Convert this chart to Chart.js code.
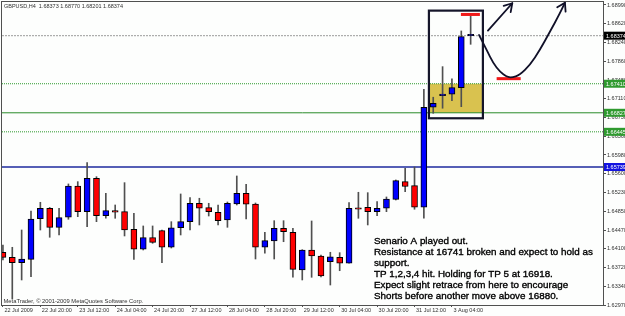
<!DOCTYPE html>
<html>
<head>
<meta charset="utf-8">
<title>GBPUSD H4</title>
<script src="https://cdn.jsdelivr.net/npm/chart.js@4.4.1/dist/chart.umd.min.js"></script>
<style>
  html, body { margin: 0; padding: 0; background: #fff; }
  #wrap { width: 625px; height: 316px; }
</style>
</head>
<body>
<div id="wrap"><canvas id="chart" width="625" height="316"></canvas></div>
<script>
// GBPUSD H4 candles (index 0 = 22 Jul 2009)
const opens = [1.64028, 1.63927, 1.63819, 1.63887, 1.64702, 1.64911, 1.64529, 1.64730, 1.65358, 1.64843,
  1.65513, 1.64762, 1.64863, 1.64843, 1.64489, 1.64088, 1.64321, 1.64461, 1.64128, 1.64521,
  1.64642, 1.65011, 1.64923, 1.64831, 1.64676, 1.64997, 1.65212, 1.64997, 1.64128, 1.64254,
  1.64509, 1.64429, 1.63673, 1.64074, 1.63953, 1.63839, 1.63927, 1.63807, 1.64911, 1.64931,
  1.64843, 1.64911, 1.65091, 1.65445, 1.65364, 1.64931, 1.66938, 1.67171, 1.67199, 1.67331, 1.68373];
const highs = [1.64174, 1.64128, 1.64475, 1.64857, 1.65031, 1.64927, 1.64911, 1.65399, 1.65445, 1.65826,
  1.65545, 1.65212, 1.64977, 1.65425, 1.64810, 1.64556, 1.64556, 1.64475, 1.64642, 1.65198,
  1.65124, 1.65112, 1.65011, 1.64977, 1.65037, 1.65559, 1.65392, 1.65017, 1.64429, 1.64662,
  1.64662, 1.64509, 1.64080, 1.64656, 1.63974, 1.64028, 1.64020, 1.65023, 1.65232, 1.65224,
  1.65043, 1.65138, 1.65479, 1.65714, 1.65740, 1.67299, 1.67139, 1.67753, 1.67506, 1.68469, 1.68770];
const lows = [1.63873, 1.63090, 1.63472, 1.63538, 1.64475, 1.64329, 1.64375, 1.64690, 1.64742, 1.64542,
  1.64642, 1.64710, 1.64710, 1.64355, 1.63887, 1.64074, 1.64208, 1.63819, 1.64114, 1.64375,
  1.64475, 1.64576, 1.64756, 1.64576, 1.64529, 1.64977, 1.64696, 1.63893, 1.64008, 1.63893,
  1.64240, 1.63526, 1.63472, 1.63526, 1.63532, 1.63371, 1.63658, 1.63807, 1.64710, 1.64576,
  1.64762, 1.64843, 1.65077, 1.65244, 1.64891, 1.64710, 1.66817, 1.66918, 1.67070, 1.66950, 1.68201];
const closes = [1.63927, 1.63819, 1.63893, 1.64696, 1.64911, 1.64529, 1.64722, 1.65358, 1.64843, 1.65513,
  1.64762, 1.64863, 1.64831, 1.64475, 1.64088, 1.64321, 1.64228, 1.64128, 1.64521, 1.64642,
  1.65011, 1.64911, 1.64843, 1.64662, 1.65011, 1.65212, 1.64991, 1.64128, 1.64261, 1.64509,
  1.64441, 1.63686, 1.64074, 1.63953, 1.63552, 1.63939, 1.63807, 1.64911, 1.64891, 1.64843,
  1.64911, 1.65097, 1.65465, 1.65348, 1.64931, 1.66938, 1.67018, 1.67199, 1.67331, 1.68355, 1.68374];

// time axis: a label every 4 bars
const timeLabels = ['22 Jul 2009', '22 Jul 20:00', '23 Jul 12:00', '24 Jul 04:00', '24 Jul 20:00',
  '27 Jul 12:00', '28 Jul 04:00', '28 Jul 20:00', '29 Jul 12:00', '30 Jul 04:00', '30 Jul 20:00',
  '31 Jul 12:00', '3 Aug 04:00'];
const timeTickIdx = [0, 4, 8, 12, 16, 20, 24, 28, 32, 36, 40, 44, 48];

// price axis labels
const priceTicks = [1.62970, 1.63340, 1.63720, 1.64100, 1.64470, 1.64850, 1.65230, 1.65600, 1.65980,
  1.66360, 1.66730, 1.67110, 1.67480, 1.67860, 1.68240, 1.68620, 1.68990];

// horizontal levels drawn on the chart
const bidLevel = 1.68374;
const greenLevels = [1.67410, 1.66827, 1.66445];
const blueLevel = 1.65739;

// hand-drawn annotations (bar index / price)
const boxX = [45.54, 51.31];
const boxY = [1.66717, 1.68877];
const redMarks = [[48.96, 50.99, 1.68800], [52.78, 55.35, 1.67512]];
const arrowLine = [[51.85, 1.68475], [54.45, 1.69025]];
const curveX = [50.89, 51.71, 52.42, 53.13, 53.85, 54.38, 55.27, 56.34, 57.41, 58.48, 59.55, 60.08];
const curveY = [1.68389, 1.68088, 1.67821, 1.67652, 1.67552, 1.67532, 1.67586, 1.67787, 1.68088, 1.68455, 1.68824, 1.69037];

const noteLines = [
  'Senario A played out.',
  'Resistance at 16741 broken and expect to hold as',
  'support.',
  'TP 1,2,3,4 hit. Holding for TP 5 at 16918.',
  'Expect slight retrace from here to encourage',
  'Shorts before another move above 16880.'
];

const X_MIN = -0.1, X_MAX = 64.15;
const axisFont = { family: 'Liberation Sans, Arial, sans-serif', size: 5.5 };

const idx = opens.map((_, i) => i);
const wickData = idx.map(i => ({ x: i, y: [lows[i], highs[i]] }));
const bodyData = idx.map(i => ({ x: i, y: [opens[i], closes[i]] }));
const bodyColors = idx.map(i => closes[i] >= opens[i] ? '#0000ff' : '#ff0000');

function levelLine(v, color, dash, width) {
  return {
    type: 'line',
    data: [{ x: X_MIN, y: v }, { x: X_MAX, y: v }],
    borderColor: color,
    borderWidth: width || 1,
    borderDash: dash || [],
    pointRadius: 0,
    fill: false
  };
}

function arrowHead(ctx, fromX, fromY, tipX, tipY) {
  const ang = Math.atan2(tipY - fromY, tipX - fromX);
  const len = 9;
  ctx.beginPath();
  ctx.moveTo(tipX - len * Math.cos(ang - 0.55), tipY - len * Math.sin(ang - 0.55));
  ctx.lineTo(tipX, tipY);
  ctx.lineTo(tipX - len * Math.cos(ang + 0.55), tipY - len * Math.sin(ang + 0.55));
  ctx.stroke();
}

const drawingPlugin = {
  id: 'drawing',
  beforeDraw(chart) {
    const ctx = chart.ctx;
    ctx.save();
    ctx.fillStyle = '#fdfefd';
    ctx.fillRect(0, 0, chart.width, chart.height);
    ctx.restore();
  },
  beforeDatasetsDraw(chart) {
    const { ctx, scales: { x, y } } = chart;
    // yellow zone between the two upper green levels
    const x1 = x.getPixelForValue(boxX[0] + 0.1), x2 = x.getPixelForValue(boxX[1] - 0.1);
    const y1 = y.getPixelForValue(greenLevels[0]), y2 = y.getPixelForValue(greenLevels[1]);
    ctx.save();
    ctx.fillStyle = '#d9c24f';
    ctx.fillRect(x1, y1, x2 - x1, y2 - y1);
    ctx.restore();
  },
  afterDatasetsDraw(chart) {
    const { ctx, scales: { x, y } } = chart;
    ctx.save();
    // rectangle
    ctx.strokeStyle = '#15152a';
    ctx.lineWidth = 2.2;
    const bx1 = x.getPixelForValue(boxX[0]), bx2 = x.getPixelForValue(boxX[1]);
    const by1 = y.getPixelForValue(boxY[1]), by2 = y.getPixelForValue(boxY[0]);
    ctx.strokeRect(bx1, by1, bx2 - bx1, by2 - by1);

    // red target marks
    ctx.fillStyle = '#f01818';
    redMarks.forEach(m => {
      const a = x.getPixelForValue(m[0]), b = x.getPixelForValue(m[1]);
      const py = y.getPixelForValue(m[2]);
      ctx.fillRect(a, py - 1.5, b - a, 3);
    });

    // arrows
    ctx.strokeStyle = '#101028';
    ctx.lineWidth = 1.8;
    ctx.lineCap = 'round';
    ctx.lineJoin = 'round';
    const ax0 = x.getPixelForValue(arrowLine[0][0]), ay0 = y.getPixelForValue(arrowLine[0][1]);
    const ax1 = x.getPixelForValue(arrowLine[1][0]), ay1 = y.getPixelForValue(arrowLine[1][1]);
    ctx.beginPath();
    ctx.moveTo(ax0, ay0);
    ctx.lineTo(ax1, ay1);
    ctx.stroke();
    arrowHead(ctx, ax0, ay0, ax1, ay1);

    const pts = curveX.map((v, i) => [x.getPixelForValue(v), y.getPixelForValue(curveY[i])]);
    ctx.beginPath();
    ctx.moveTo(pts[0][0], pts[0][1]);
    for (let i = 1; i < pts.length - 1; i++) {
      const mx = (pts[i][0] + pts[i + 1][0]) / 2, my = (pts[i][1] + pts[i + 1][1]) / 2;
      ctx.quadraticCurveTo(pts[i][0], pts[i][1], mx, my);
    }
    const last = pts[pts.length - 1];
    ctx.lineTo(last[0], last[1]);
    ctx.stroke();
    const prev = pts[pts.length - 3];
    arrowHead(ctx, prev[0], prev[1], last[0], last[1]);
    ctx.restore();
  },
  afterDraw(chart) {
    const { ctx, chartArea: ca, scales: { x, y } } = chart;
    ctx.save();
    // frame
    ctx.strokeStyle = '#505050';
    ctx.lineWidth = 1;
    ctx.strokeRect(ca.left - 0.5, ca.top - 0.5, ca.right - ca.left + 1, ca.bottom - ca.top + 1);

    // level price tags on the right axis
    const tags = [[bidLevel, '#000000']].concat(greenLevels.map(v => [v, '#2f9a2f']), [[blueLevel, '#1414e0']]);
    ctx.font = '5.5px Liberation Sans, Arial, sans-serif';
    ctx.textBaseline = 'middle';
    ctx.textAlign = 'left';
    tags.forEach(t => {
      const py = y.getPixelForValue(t[0]);
      ctx.fillStyle = t[1];
      ctx.fillRect(ca.right + 1, py - 4, 21, 8);
      ctx.fillStyle = '#ffffff';
      ctx.fillText(t[0].toFixed(5), ca.right + 3, py + 0.5);
    });

    // header and copyright
    ctx.fillStyle = '#303030';
    ctx.fillText('GBPUSD,H4  1.68373 1.68770 1.68201 1.68374', 4, 6);
    ctx.font = '5.8px Liberation Sans, Arial, sans-serif';
    ctx.fillText('MetaTrader, \u00a9 2001-2009 MetaQuotes Software Corp.', 3.5, 301);

    // comment text (slight stroke to match the heavier screenshot text)
    ctx.fillStyle = '#000000';
    ctx.strokeStyle = '#000000';
    ctx.lineWidth = 0.35;
    ctx.font = '9.85px Liberation Sans, Arial, sans-serif';
    const tx = x.getPixelForValue(39.66);
    const ty = y.getPixelForValue(1.64254);
    noteLines.forEach((s, i) => {
      ctx.fillText(s, tx, ty + i * 11.1);
      ctx.strokeText(s, tx, ty + i * 11.1);
    });
    ctx.restore();
  }
};

new Chart(document.getElementById('chart'), {
  type: 'bar',
  data: {
    datasets: [
      {
        data: bodyData,
        backgroundColor: bodyColors,
        borderColor: '#000000',
        borderWidth: 1,
        borderSkipped: false,
        barThickness: 6,
        minBarLength: 1.5,
        grouped: false
      },
      {
        data: wickData,
        backgroundColor: '#505050',
        borderWidth: 0,
        barThickness: 1,
        grouped: false
      },
      levelLine(bidLevel, '#9a9a9a', [2, 1]),
      levelLine(greenLevels[0], '#2f9a2f', [1, 1]),
      levelLine(greenLevels[1], '#2a8c2a'),
      levelLine(greenLevels[2], '#2f9a2f', [1, 1]),
      levelLine(blueLevel, '#1c2a9e', [], 1.5)
    ]
  },
  options: {
    responsive: false,
    animation: false,
    events: [],
    layout: { padding: { left: 2, top: 2, right: 0, bottom: 0 } },
    plugins: { legend: { display: false }, tooltip: { enabled: false } },
    scales: {
      x: {
        type: 'linear',
        min: X_MIN,
        max: X_MAX,
        offset: false,
        border: { display: false },
        grid: { offset: false, drawOnChartArea: false, drawTicks: true, tickLength: 2, color: '#505050' },
        afterBuildTicks: s => { s.ticks = timeTickIdx.map(v => ({ value: v })); },
        afterFit: s => { s.height = 11; s.paddingLeft = 0; s.paddingRight = 0; },
        ticks: {
          autoSkip: false,
          maxRotation: 0,
          align: 'start',
          labelOffset: 1.5,
          padding: 0,
          color: '#303030',
          font: axisFont,
          callback: (v, i) => timeLabels[i]
        }
      },
      y: {
        position: 'right',
        min: 1.62970,
        max: 1.69050,
        border: { display: false },
        grid: { drawOnChartArea: false, drawTicks: true, tickLength: 3, color: '#505050' },
        afterBuildTicks: s => { s.ticks = priceTicks.map(v => ({ value: v })); },
        afterFit: s => { s.width = 22; s.paddingTop = 0; s.paddingBottom = 0; },
        ticks: {
          padding: 1,
          color: '#303030',
          font: axisFont,
          callback: v => v.toFixed(5)
        }
      }
    }
  },
  plugins: [drawingPlugin]
});
</script>
</body>
</html>
